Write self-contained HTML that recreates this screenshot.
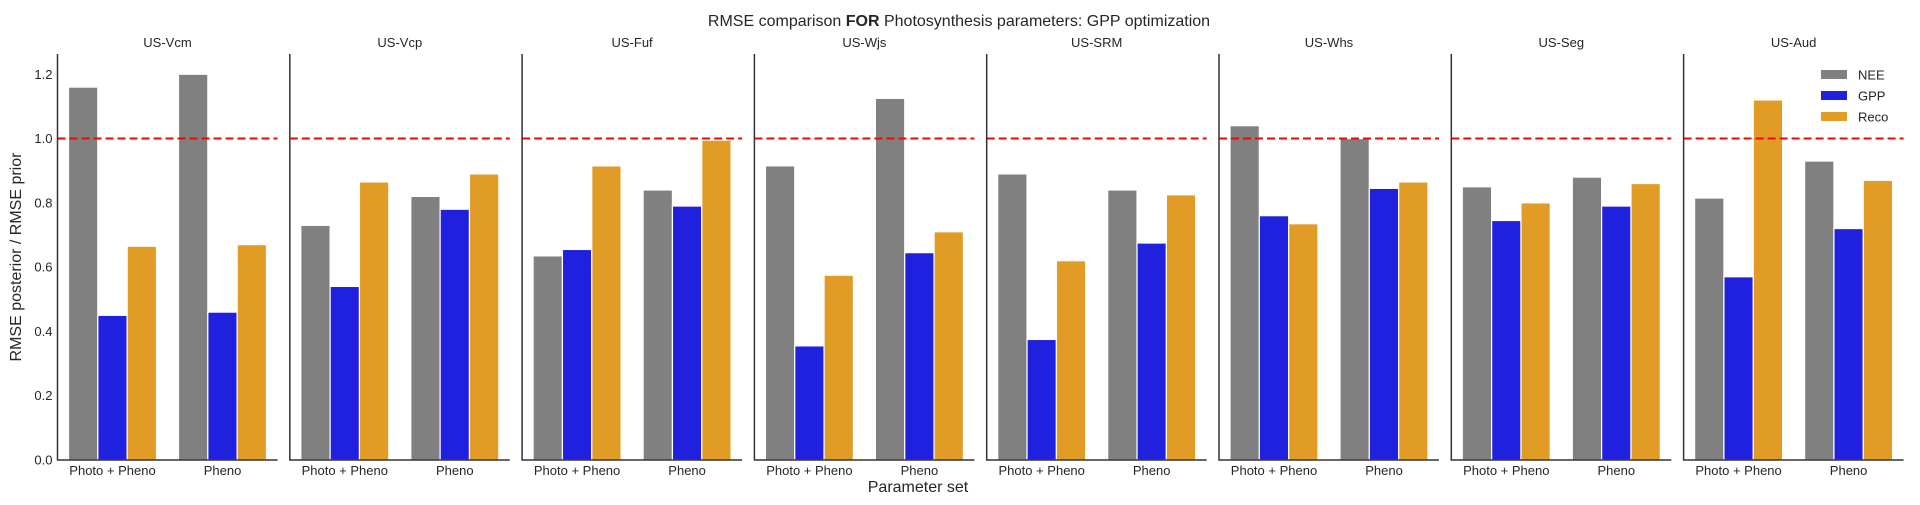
<!DOCTYPE html>
<html><head><meta charset="utf-8"><style>
html,body{margin:0;padding:0;background:#fff;}
svg text{font-family:"Liberation Sans",Arial,sans-serif;fill:#262626;}
</style></head><body>
<svg id="chart" width="1920" height="500" viewBox="0 0 1920 500" xmlns="http://www.w3.org/2000/svg">
<text x="959" y="26" font-size="16" text-anchor="middle">RMSE comparison <tspan font-weight="bold">FOR</tspan> Photosynthesis parameters: GPP optimization</text>
<text transform="translate(21,257) rotate(-90)" font-size="16" text-anchor="middle">RMSE posterior / RMSE prior</text>
<text x="918" y="492" font-size="16" text-anchor="middle">Parameter set</text>
<g id="panels"></g>
<g id="legend"></g>
</svg>
<script>
const sites = ["US-Vcm","US-Vcp","US-Fuf","US-Wjs","US-SRM","US-Whs","US-Seg","US-Aud"];
const categories = ["Photo + Pheno","Pheno"];
const seriesNames = ["NEE","GPP","Reco"];
const neeValues = [[1.16,1.20],[0.73,0.82],[0.635,0.84],[0.915,1.125],[0.89,0.84],[1.04,1.0],[0.85,0.88],[0.815,0.93]];
const gppValues = [[0.45,0.46],[0.54,0.78],[0.655,0.79],[0.355,0.645],[0.375,0.675],[0.76,0.845],[0.745,0.79],[0.57,0.72]];
const recoValues = [[0.665,0.67],[0.865,0.89],[0.915,0.995],[0.575,0.71],[0.62,0.825],[0.735,0.865],[0.80,0.86],[1.12,0.87]];
const yTicks = [0.0,0.2,0.4,0.6,0.8,1.0,1.2];
const refLine = 1.0;

const colors = ["#808080","#2020df","#e09c24"];
const NS="http://www.w3.org/2000/svg";
const left0=57.5, period=232.3, pw=220, yBottom=460, yTop=54, yMax=1.263;
function yPos(v){return yBottom-(v/yMax)*(yBottom-yTop);}
function mk(tag,attrs,parent){const e=document.createElementNS(NS,tag);for(const k in attrs)e.setAttribute(k,attrs[k]);parent.appendChild(e);return e;}
const panels=document.getElementById('panels');
const allSeries=[neeValues,gppValues,recoValues];
sites.forEach((site,si)=>{
  const x0=left0+si*period;
  const g=mk('g',{},panels);
  
  
  const t=mk('text',{x:x0+pw/2,y:47,'font-size':13,'text-anchor':'middle'},g);
  t.textContent=site;
  
  
  const cw=pw/categories.length, bw=cw*0.8/3;
  categories.forEach((cat,ci)=>{
    const cx=x0+cw*(ci+0.5);
    allSeries.forEach((ser,k)=>{
      const v=ser[si][ci];
      const bx=cx-1.5*bw+k*bw;
      const r=mk('rect',{x:bx,y:yPos(v),width:bw,height:yBottom-yPos(v),fill:colors[k],stroke:'#fff','stroke-width':1.2},g);
      
      
    });
    const lt=mk('text',{x:cx,y:475,'font-size':13,'text-anchor':'middle'},g);
    lt.textContent=cat;
    
    
  });
  const dl=mk('line',{x1:x0,x2:x0+pw,y1:yPos(refLine),y2:yPos(refLine),stroke:'#ff0000','stroke-width':2,'stroke-dasharray':'8,4'},g);
  
  
  const ax=mk('path',{d:`M${x0},${yTop} V${yBottom} H${x0+pw}`,fill:'none',stroke:'#333','stroke-width':1.5},g);
  
  
  if(si===0){
    yTicks.forEach(v=>{
      const tt=mk('text',{x:x0-5,y:yPos(v)+4.5,'font-size':13,'text-anchor':'end'},g);
      tt.textContent=v.toFixed(1);
      
      
    });
  }
});
const lg=document.getElementById('legend');
seriesNames.forEach((n,k)=>{
  const y=75+k*21;
  const r=mk('rect',{x:1821,y:y-5,width:26,height:9,fill:colors[k]},lg);
  
  
  const t=mk('text',{x:1858,y:y+4.5,'font-size':13},lg);
  t.textContent=n;
  
  
});
</script>
</body></html>
